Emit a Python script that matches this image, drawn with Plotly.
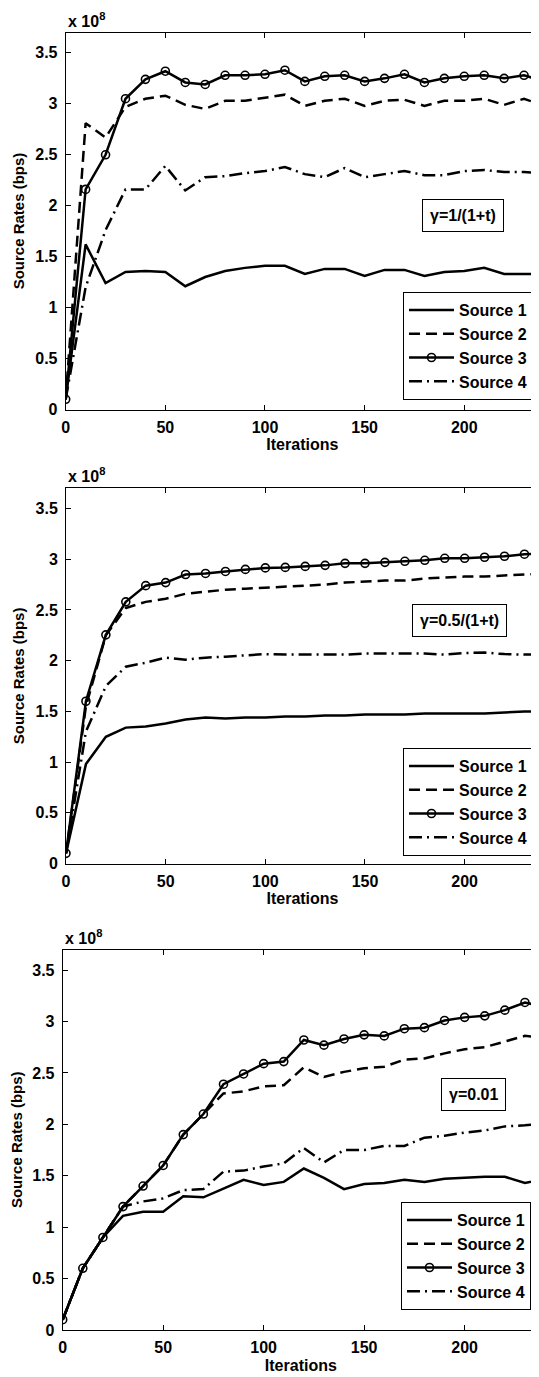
import plotly.graph_objects as go

# ---------------- data (values in units of 1e8 bps) ----------------
iterations = [0, 10, 20, 30, 40, 50, 60, 70, 80, 90, 100, 110, 120,
              130, 140, 150, 160, 170, 180, 190, 200, 210, 220, 230, 240]

# Panel 1: gamma = 1/(1+t)
p1_source1 = [0.10, 1.62, 1.24, 1.35, 1.36, 1.35, 1.21, 1.30, 1.36, 1.39, 1.41, 1.41, 1.33,
              1.38, 1.38, 1.31, 1.37, 1.37, 1.31, 1.35, 1.36, 1.39, 1.33, 1.33, 1.33]
p1_source2 = [0.10, 2.81, 2.67, 2.97, 3.05, 3.08, 2.99, 2.95, 3.03, 3.03, 3.06, 3.09, 2.98,
              3.03, 3.05, 2.98, 3.03, 3.04, 2.98, 3.03, 3.03, 3.05, 2.99, 3.05, 2.98]
p1_source3 = [0.10, 2.16, 2.50, 3.05, 3.24, 3.32, 3.21, 3.19, 3.28, 3.28, 3.29, 3.33, 3.22,
              3.27, 3.28, 3.22, 3.25, 3.29, 3.21, 3.25, 3.27, 3.28, 3.25, 3.28, 3.22]
p1_source4 = [0.10, 1.20, 1.76, 2.16, 2.16, 2.39, 2.15, 2.28, 2.29, 2.32, 2.34, 2.38, 2.31,
              2.28, 2.37, 2.28, 2.31, 2.34, 2.30, 2.30, 2.34, 2.35, 2.33, 2.33, 2.32]

# Panel 2: gamma = 0.5/(1+t)
p2_source1 = [0.10, 0.98, 1.25, 1.34, 1.35, 1.38, 1.42, 1.44, 1.43, 1.44, 1.44, 1.45, 1.45,
              1.46, 1.46, 1.47, 1.47, 1.47, 1.48, 1.48, 1.48, 1.48, 1.49, 1.50, 1.50]
p2_source2 = [0.10, 1.55, 2.25, 2.52, 2.58, 2.61, 2.66, 2.68, 2.70, 2.71, 2.72, 2.735, 2.745,
              2.75, 2.77, 2.78, 2.79, 2.79, 2.81, 2.82, 2.83, 2.83, 2.84, 2.85, 2.86]
p2_source3 = [0.10, 1.60, 2.255, 2.58, 2.74, 2.77, 2.85, 2.86, 2.88, 2.90, 2.915, 2.92, 2.93,
              2.94, 2.96, 2.96, 2.97, 2.98, 2.99, 3.01, 3.01, 3.02, 3.03, 3.05, 3.06]
p2_source4 = [0.10, 1.30, 1.75, 1.94, 1.98, 2.03, 2.01, 2.03, 2.04, 2.05, 2.065, 2.06, 2.06,
              2.06, 2.06, 2.07, 2.07, 2.075, 2.07, 2.06, 2.075, 2.08, 2.065, 2.06, 2.06]

# Panel 3: gamma = 0.01
p3_source1 = [0.10, 0.60, 0.90, 1.11, 1.15, 1.15, 1.30, 1.29, 1.375, 1.46, 1.41, 1.44, 1.57,
              1.48, 1.37, 1.42, 1.43, 1.46, 1.44, 1.47, 1.48, 1.49, 1.49, 1.43, 1.47]
p3_source2 = [0.10, 0.60, 0.90, 1.20, 1.40, 1.60, 1.90, 2.10, 2.30, 2.32, 2.37, 2.38, 2.555,
              2.46, 2.51, 2.545, 2.56, 2.63, 2.64, 2.69, 2.73, 2.75, 2.805, 2.86, 2.84]
p3_source3 = [0.10, 0.60, 0.90, 1.20, 1.40, 1.60, 1.90, 2.10, 2.39, 2.49, 2.59, 2.61, 2.82,
              2.77, 2.83, 2.87, 2.86, 2.93, 2.94, 3.01, 3.04, 3.055, 3.11, 3.185, 3.14]
p3_source4 = [0.10, 0.60, 0.90, 1.20, 1.25, 1.28, 1.36, 1.37, 1.54, 1.55, 1.59, 1.62, 1.77,
              1.63, 1.75, 1.75, 1.79, 1.79, 1.87, 1.89, 1.92, 1.94, 1.98, 1.99, 2.01]

series_names = ["Source 1", "Source 2", "Source 3", "Source 4"]
gamma_labels = ["γ=1/(1+t)", "γ=0.5/(1+t)", "γ=0.01"]
x_tick_vals = [0, 50, 100, 150, 200]
y_tick_vals = [0, 0.5, 1, 1.5, 2, 2.5, 3, 3.5]
y_tick_text = ["0", "0.5", "1", "1.5", "2", "2.5", "3", "3.5"]

# ---------------- layout geometry ----------------
PAGE_W, PAGE_H = 539, 1377
OFF = 8  # default page margin of the html body
W, H = PAGE_W - OFF, PAGE_H - OFF
FONT = "Liberation Sans, Arial, Helvetica, sans-serif"


def px_x(v):
    return (v - OFF) / W


def px_y(v):
    return 1 - (v - OFF) / H


panels = [
    dict(data=[p1_source1, p1_source2, p1_source3, p1_source4],
         left=65.7, top=32.5, bottom=409.5, xmax=237.5,
         legend_right=533, legend_bottom=400, box=(463, 215.5)),
    dict(data=[p2_source1, p2_source2, p2_source3, p2_source4],
         left=66.0, top=488.3, bottom=863.5, xmax=237.3,
         legend_right=533, legend_bottom=856, box=(459.5, 620)),
    dict(data=[p3_source1, p3_source2, p3_source3, p3_source4],
         left=62.7, top=949.5, bottom=1330.0, xmax=237.0,
         legend_right=531, legend_bottom=1310, box=(473, 1094)),
]

styles = [
    dict(line=dict(color="black", width=2.5, dash="solid"), mode="lines"),
    dict(line=dict(color="black", width=2.5, dash="11px,6px"), mode="lines"),
    dict(line=dict(color="black", width=2.5, dash="solid"), mode="lines+markers",
         marker=dict(symbol="circle-open", size=8, color="black", line=dict(width=1.6))),
    dict(line=dict(color="black", width=2.5, dash="13px,5px,2px,5px"), mode="lines"),
]

fig = go.Figure()
annotations = []
layout = {}

for i, p in enumerate(panels):
    n = "" if i == 0 else str(i + 1)
    xa, ya = "x" + n, "y" + n
    leg = "legend" + n
    for name, vals, st in zip(series_names, p["data"], styles):
        fig.add_trace(go.Scatter(x=iterations, y=vals, name=name, xaxis=xa, yaxis=ya,
                                 legend=leg, cliponaxis=True, **st))
    ydom = [px_y(p["bottom"]), px_y(p["top"])]
    xdom = [px_x(p["left"]), 1.0]
    axis_common = dict(showline=True, linecolor="black", linewidth=1, mirror="ticks",
                       ticks="inside", ticklen=5, tickcolor="black", showgrid=False,
                       zeroline=False, automargin=False,
                       tickfont=dict(family=FONT, size=16, color="black", weight="bold"))
    layout["xaxis" + n] = dict(domain=xdom, range=[0, p["xmax"]], anchor=ya,
                               tickvals=x_tick_vals, ticklabelstandoff=3,
                               title=dict(text="Iterations", standoff=4,
                                          font=dict(family=FONT, size=16, color="black",
                                                    weight="bold")),
                               **axis_common)
    layout["yaxis" + n] = dict(domain=ydom, range=[0, 3.7], anchor=xa,
                               tickvals=y_tick_vals, ticktext=y_tick_text,
                               ticklabelstandoff=4,
                               title=dict(text="Source Rates (bps)", standoff=7,
                                          font=dict(family=FONT, size=15, color="black",
                                                    weight="bold")),
                               **axis_common)
    layout[leg] = dict(x=px_x(p["legend_right"]), y=px_y(p["legend_bottom"]),
                       xanchor="right", yanchor="bottom", xref="paper", yref="paper",
                       bgcolor="white", bordercolor="black", borderwidth=1,
                       itemwidth=45, tracegroupgap=0,
                       font=dict(family=FONT, size=16, color="black", weight="bold"))
    # exponent label
    annotations.append(dict(text="x 10<sup>8</sup>", xref="paper", yref="paper",
                            x=xdom[0], y=ydom[1], xanchor="left", yanchor="bottom",
                            yshift=1, showarrow=False,
                            font=dict(family=FONT, size=16, color="black", weight="bold")))
    # gamma box
    bx, by = p["box"]
    annotations.append(dict(text=gamma_labels[i], xref="paper", yref="paper",
                            x=px_x(bx), y=px_y(by), xanchor="center", yanchor="middle",
                            showarrow=False, bordercolor="black", borderwidth=1,
                            borderpad=7, bgcolor="white",
                            font=dict(family=FONT, size=16, color="black", weight="bold")))

fig.update_layout(width=W, height=H, margin=dict(l=0, r=0, t=0, b=0),
                  paper_bgcolor="white", plot_bgcolor="white",
                  annotations=annotations, **layout)

fig.write_html("out.html")
